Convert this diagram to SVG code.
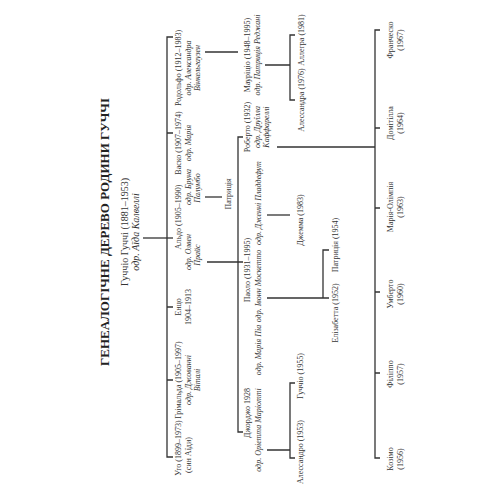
<svg xmlns="http://www.w3.org/2000/svg" width="500" height="500" viewBox="0 0 500 500">
<style>
text{font-family:"Liberation Serif","Times New Roman",serif;font-size:8px;fill:#333;text-anchor:middle;dominant-baseline:central}
.i{font-style:italic}
.title{font-size:13px;font-weight:bold;fill:#222}
.root{font-size:10px}
.ln{stroke:#333;stroke-width:1.3;fill:none}
</style>
<rect width="500" height="500" fill="#fff"/>
<g id="title"><text class="title" x="104" y="232" transform="rotate(-90 104 232)">ГЕНЕАЛОГІЧНЕ ДЕРЕВО РОДИНИ ГУЧЧІ</text></g>
<g id="connectors" class="ln">
<path d="M143 238H173"/>
<path d="M173 37H167V457H173M167 133H173M167 307H173M167 380H173"/>
<path d="M205 52H238"/>
<path d="M265 65H290M295 35H290V100H295"/>
<path d="M205 197H222"/>
<path d="M207 262H243M243 137H238V432H243"/>
<path d="M277 147H375M380 30H375V458H380M375 128H380M375 208H380M375 292H380M375 373H380"/>
<path d="M267 215H290"/>
<path d="M267 298H329M329 250H323V298"/>
<path d="M267 450H290M295 383H290V458H295"/>
</g>
<g id="guccio">
<text class="root" x="124" y="232" transform="rotate(-90 124 232)">Гуччіо Гуччі (1881–1953)</text>
<text class="root i" x="135" y="232" transform="rotate(-90 135 232)">одр. Аїда Калвеллі</text>
</g>
<g id="rodolfo">
<text x="178" y="68" transform="rotate(-90 178 68)">Родольфо (1912–1983)</text>
<text class="i" x="188" y="68" transform="rotate(-90 188 68)">одр. Александра</text>
<text class="i" x="197" y="68" transform="rotate(-90 197 68)">Вінкельгаузен</text>
</g>
<g id="vasco">
<text x="178" y="143" transform="rotate(-90 178 143)">Васко (1907–1974)</text>
<text class="i" x="188" y="143" transform="rotate(-90 188 143)">одр. Марія</text>
</g>
<g id="aldo">
<text x="178" y="217" transform="rotate(-90 178 217)">Альдо (1905–1990)</text>
<text class="i" x="188" y="187" transform="rotate(-90 188 187)">одр. Бруна</text>
<text class="i" x="197" y="188" transform="rotate(-90 197 188)">Палумбо</text>
<text class="i" x="188" y="252" transform="rotate(-90 188 252)">одр. Олвен</text>
<text class="i" x="197" y="255" transform="rotate(-90 197 255)">Прайс</text>
</g>
<g id="enzo">
<text x="178" y="307" transform="rotate(-90 178 307)">Енцо</text>
<text x="188" y="307" transform="rotate(-90 188 307)">1904–1913</text>
</g>
<g id="grimalda">
<text x="178" y="380" transform="rotate(-90 178 380)">Грімальда (1905–1997)</text>
<text class="i" x="188" y="380" transform="rotate(-90 188 380)">одр. Джованні</text>
<text class="i" x="197" y="380" transform="rotate(-90 197 380)">Віталі</text>
</g>
<g id="ugo">
<text x="178" y="448" transform="rotate(-90 178 448)">Уго (1899–1973)</text>
<text x="188" y="455" transform="rotate(-90 188 455)">(син Аїди)</text>
</g>
<g id="patrizia-aldo"><text x="228" y="194" transform="rotate(-90 228 194)">Патриція</text></g>
<g id="maurizio">
<text x="247" y="55" transform="rotate(-90 247 55)">Мауріціо (1948–1995)</text>
<text class="i" x="257" y="55" transform="rotate(-90 257 55)">одр. Патриція Реджані</text>
</g>
<g id="allegra"><text x="301" y="40" transform="rotate(-90 301 40)">Аллегра (1981)</text></g>
<g id="alessandra"><text x="301" y="100" transform="rotate(-90 301 100)">Алессандра (1976)</text></g>
<g id="roberto">
<text x="247" y="127" transform="rotate(-90 247 127)">Роберто (1932)</text>
<text class="i" x="257" y="127" transform="rotate(-90 257 127)">одр. Друїлла</text>
<text class="i" x="266" y="127" transform="rotate(-90 266 127)">Каффареллі</text>
</g>
<g id="paolo">
<text x="247" y="270" transform="rotate(-90 247 270)">Паоло (1931–1995)</text>
<text class="i" x="258" y="203" transform="rotate(-90 258 203)">одр. Дженні Пладдефут</text>
<text class="i" x="258" y="286" transform="rotate(-90 258 286)">одр. Івонн Москетто</text>
</g>
<g id="gemma"><text x="300" y="220" transform="rotate(-90 300 220)">Джемма (1983)</text></g>
<g id="patrizia"><text x="335" y="245" transform="rotate(-90 335 245)">Патриція (1954)</text></g>
<g id="elisabetta"><text x="335" y="313" transform="rotate(-90 335 313)">Елізабетта (1952)</text></g>
<g id="giorgio">
<text x="247" y="413" transform="rotate(-90 247 413)">Джорджо 1928</text>
<text class="i" x="258" y="350" transform="rotate(-90 258 350)">одр. Марія Піа</text>
<text class="i" x="258" y="430" transform="rotate(-90 258 430)">одр. Оріетта Маріотті</text>
</g>
<g id="guccio-1955"><text x="300" y="376" transform="rotate(-90 300 376)">Гуччіо (1955)</text></g>
<g id="alessandro"><text x="300" y="452" transform="rotate(-90 300 452)">Алессандро (1953)</text></g>
<g id="francesco">
<text x="390" y="40" transform="rotate(-90 390 40)">Франческо</text>
<text x="400" y="40" transform="rotate(-90 400 40)">(1967)</text>
</g>
<g id="domitilla">
<text x="390" y="123" transform="rotate(-90 390 123)">Домітілла</text>
<text x="400" y="123" transform="rotate(-90 400 123)">(1964)</text>
</g>
<g id="maria-olimpia">
<text x="390" y="207" transform="rotate(-90 390 207)">Марія-Олімпія</text>
<text x="400" y="207" transform="rotate(-90 400 207)">(1963)</text>
</g>
<g id="umberto">
<text x="390" y="294" transform="rotate(-90 390 294)">Умберто</text>
<text x="400" y="294" transform="rotate(-90 400 294)">(1960)</text>
</g>
<g id="filippo">
<text x="390" y="374" transform="rotate(-90 390 374)">Філіппо</text>
<text x="400" y="374" transform="rotate(-90 400 374)">(1957)</text>
</g>
<g id="cosimo">
<text x="390" y="459" transform="rotate(-90 390 459)">Козімо</text>
<text x="400" y="459" transform="rotate(-90 400 459)">(1956)</text>
</g>
</svg>
